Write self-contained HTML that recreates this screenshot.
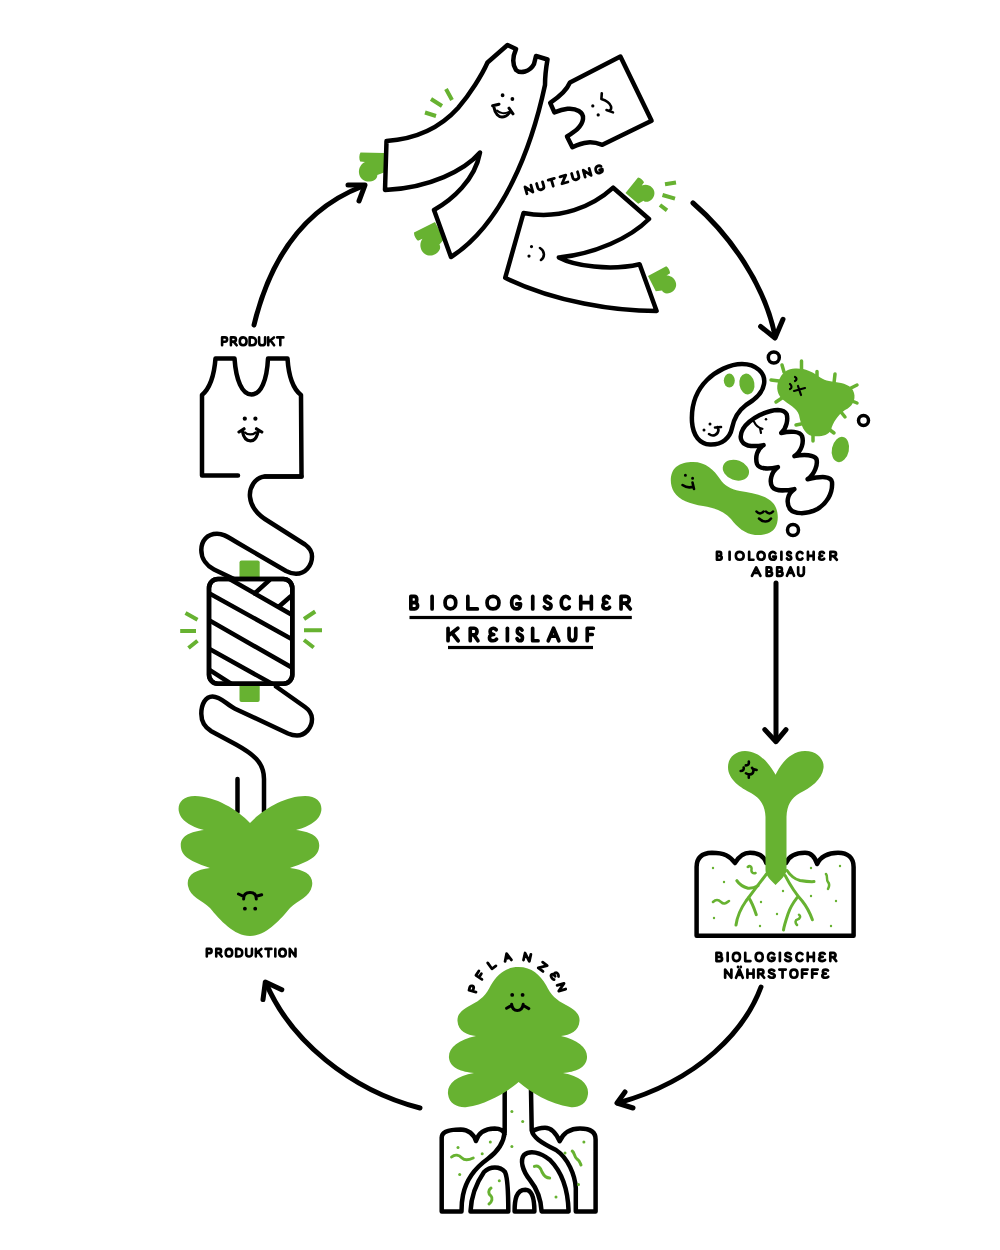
<!DOCTYPE html>
<html><head><meta charset="utf-8">
<style>
html,body{margin:0;padding:0;background:#fff;}
svg{display:block;}
</style></head>
<body>
<svg width="1000" height="1250" viewBox="0 0 1000 1250">
<defs>
<path id="mit" d="M0,0 L-23.5,-0.5 C-25,2 -25,6 -23.8,8.5 L-19,9 C-23,11 -25.5,15 -25,20 C-24.5,25.5 -19.5,29 -14,28.5 C-9,28 -6.5,25 -6.7,22 L0,19.5 Z"/>
</defs>
<g fill="none" stroke="#000" stroke-width="4.5" stroke-linecap="round" stroke-linejoin="round">

<!-- ===== NUTZUNG pieces ===== -->
<g id="mittens" fill="#67b231" stroke="none">
<use href="#mit" transform="translate(384,153)"/>
<use href="#mit" transform="translate(435,222) rotate(-28)"/>
<use href="#mit" transform="translate(625.5,193) rotate(-50) scale(-0.85,0.85)"/>
<use href="#mit" transform="translate(648,276) rotate(-27) scale(-0.88,0.88)"/>
</g>
<g stroke="#67b231" stroke-width="4" stroke-linecap="butt">
<path d="M425,112.5 L436,116 M431,99 L442,106 M446,89 L452,100"/>
<path d="M665,184.3 L676,182.5 M662.5,195 L675,198.7 M660,205 L667,210.4"/>
</g>
<path fill="#fff" d="M507.5,45 L516,49 C513,56 512,64 516,70 C520,74 530,72 534,64 L536,56 L547.5,59.5 C546,68 545,76 545,85 C531.8,146.9 503.3,223.3 451,257 L434,210 C452,200 475,180 480,152.5 C465,170 430,188 385,190 L386.5,141 C415,139 440,128 458,108 C470,94 482,75 487.5,62.5 Z"/>
<path fill="#fff" d="M570,82.4 L620.4,56.6 L651.6,120.8 L602.4,144.8 C596,142.5 592,142 588,142.4 C582,143 577,145 572.4,147.2 L567,136.4 C574,132 582,127 583,119 C584,112 576,108 567.6,108.8 C562,109.5 558,111 554.4,112.4 L550.2,102.8 C556,99 566,92 570,82.4 Z"/>
<path fill="#fff" d="M523.5,213 C560,220 592,207 613.2,187.7 L649,219 C630,238 595,254 558.8,257.4 C575,266 610,271 639.6,264.2 L656.6,311 C615,311 555,302 505.2,277.8 Z"/>

<!-- faces -->
<g stroke-width="2.2">
<path d="M502.6,95.2 l0,0.1 M512.4,99 l0,0.1" stroke-width="3.8"/><path d="M494,107.5 C495,114 499,117 502,117 C505,117 508,115 510.5,111.5 M492.6,105.8 L499,104.2 M509,108.2 L513,113.8" stroke-width="3"/><path d="M497,110.5 C500,113.5 505,114 508.5,112" stroke-width="2"/>
<path d="M592.8,105.8 l0,0.1 M598.2,114.8 l0,0.1" stroke-width="3.2"/><path d="M601.8,93.2 L601.4,99 C606,100.5 610,103.5 611,106.4 C611.5,108.5 611,110 609.5,110.6 M606.5,110 L613,112.4" stroke-width="2.6"/>
<path d="M531.5,246.5 l0,0.1 M529,256 l0,0.1" stroke-width="3.2"/><path d="M540,248 C545,251 545,257 541,260" stroke-width="2.6"/>
</g>

<!-- ===== Arrows ===== -->
<g stroke-width="5">
<path d="M254,325 C270,259 303,209 363,186"/>
<path d="M348,185 L365,185 L359,201"/>
<path d="M693,203 C730,235 765,285 775,336"/>
<path d="M760.6,326.5 L775,338 L783,319.3"/>
<path d="M776,583 L776,740"/>
<path d="M764.8,729.6 L776,741.7 L786,729.6"/>
<path d="M761,987 C745,1030 700,1080 618,1103"/>
<path d="M625,1092 L617,1103 L633,1108"/>
<path d="M420,1108 C350,1090 290,1040 266,983"/>
<path d="M281.8,989.7 L265.3,982 L263,999.6"/>
</g>

<!-- ===== PRODUKT tank ===== -->
<path fill="#fff" d="M238,475.5 L202,475.5 L202,395 C209,389 214,378 215.5,358.5 L234.5,358.5 C236,380 242,394.5 251.5,394.5 C261,394.5 267,380 268,358.5 L287.5,358.5 C288.5,374 292,388 301,395 L301.5,476.5 L265,476.5"/>
<path d="M244.8,418.6 l0,0.1 M255.4,418.6 l0,0.1" stroke-width="4.2"/>
<path d="M242.5,431.5 C243.5,437.5 246.5,440.8 250.5,440.8 C254.5,440.8 257,437.5 258,431.5 M239,432 L244,428.8 M256.5,428.8 L261.8,432" stroke-width="3.2"/><path d="M245,432.5 C247.5,435 253,435 255.5,432.5" stroke-width="2.4"/>

<!-- thread upper -->
<path d="M301.5,476.5 L265,476.5 C255,477 249,488 250,497 C251,507 258,515 268,521 L305,544.5 C310,548 312,552 312,556.5 C312,566 305,573.75 296,573.75 C292,573.75 289,572.5 286,571 L238,543 C229,538 225,533.7 217,533.7 C207,533.7 201.3,541 201.3,550 C201.3,559 207,566 214,569.5 L236,580"/>
<!-- spool tabs -->
<rect x="239.5" y="560.5" width="20.2" height="20" rx="2" fill="#67b231" stroke="none"/>
<rect x="239.5" y="682" width="20.2" height="20" rx="2" fill="#67b231" stroke="none"/>
<!-- spool -->
<rect x="209" y="579" width="83.3" height="104.8" rx="9" fill="#fff"/>
<clipPath id="spc"><rect x="209" y="579" width="83.3" height="104.8" rx="9"/></clipPath>
<g clip-path="url(#spc)">
<path d="M226,577 L294,616 M209.5,593.5 L293.5,640 M209.5,620.5 L293.5,668.5 M209.5,649 L277,686.5 M209.5,670 L233,685 M254.5,593.5 L269.5,580 M278.5,607 L290.5,596.5"/>
</g>
<rect x="209" y="579" width="83.3" height="104.8" rx="9"/>
<!-- thread lower -->
<path d="M276,686.5 L305,707 C310,710.5 312,714 312,719 C312,728 305,735.5 297,735.5 C294,735.5 291,734.8 288,733.5 L235,708.7 C227,705 221,696.5 212.5,696.5 C205.5,696.5 201.3,704 201.3,713.8 C201.3,721 205,727.5 211.3,731.3 L236,744.5 C253,754 264,762 264,779 L264,812"/>
<path d="M237.5,779 L237.5,812"/>
<g stroke="#67b231" stroke-width="4" stroke-linecap="butt">
<path d="M185.5,613 L197.5,619.7 M180.2,631 L196,631 M188.5,648 L197.5,640.7"/>
<path d="M304,619 L315.2,611.5 M304,630.2 L322,630.2 M304,640 L313.7,647.5"/>
</g>

<!-- ===== PRODUKTION plant ===== -->
<path fill="#67b231" stroke="none" d="M250,823 C262,810 285,796 305,796 C318,796 323,804 321,812 C319,822 305,828 296,830 C310,832 321,836 319,848 C317,860 300,864 290,868 C305,870 314,875 312,886 C310,897 298,900 290,908 C280,920 266,936 250,936 C234,936 220,920 210,908 C202,900 190,897 188,886 C186,875 195,870 210,868 C200,864 183,860 181,848 C179,836 190,832 204,830 C195,828 181,822 179,812 C177,804 182,796 195,796 C215,796 238,810 250,823 Z"/>
<path d="M243.6,899 C243.6,894.5 246.5,892.6 250,892.6 C253.5,892.6 256.3,894.5 256.3,899 M238.5,894 L243.5,896.3 M256.3,896.3 L261.7,894.8" stroke-width="3"/>
<path d="M244.9,908.6 l0,0.1 M255.2,908.6 l0,0.1" stroke-width="3.8"/>

</g>

<!-- ===== ABBAU decomposers ===== -->
<g fill="none" stroke="#000" stroke-width="4.5" stroke-linecap="round" stroke-linejoin="round">
<circle cx="773.8" cy="357.5" r="5.5" stroke-width="3.5"/>
<circle cx="863.5" cy="420.6" r="5" stroke-width="3.5"/>
<circle cx="793" cy="530" r="5.5" stroke-width="3.5"/>
<path fill="#fff" d="M742,364 C756,364 766,373 764,384 C763,392 756,399 746,405 C738,411 734,418 732,428 C730,438 722,445 710,444.5 C700,444 693,436 692,422 C691,405 697,390 707,380 C716,371 730,364 742,364 Z"/>
<ellipse cx="729.3" cy="380.6" rx="5.5" ry="7" fill="#67b231" stroke="none"/>
<ellipse cx="746.9" cy="384" rx="7.5" ry="10.5" fill="#67b231" stroke="none" transform="rotate(-10 746.9 384)"/>
<path d="M710,424 l0,0.1 M704,430 l0,0.1" stroke-width="3"/>
<path d="M709,434 C713,437 718,435 718.5,430 L717.5,427 M715,427.5 L721,427" stroke-width="2.6"/>
<!-- virus -->
<g stroke="#67b231" stroke-width="3.5">
<path d="M784,372 L782,365 M801.5,371 L801.5,361 M817,376 L817,371.5 M834,383 L835,374 M851,388 L857,385 M852,401 L857,403 M841,412 L845,417 M830,430 L834,433 M813,435 L813,441 M801,424 L796,425 M782,398 L776,402 M779,381 L771,380"/>
</g>
<path fill="#67b231" stroke="none" d="M780,378 C783,372 788,368.5 795,368.5 C805,368 812,372 817,375 C822,379 826,381 835,382 C843,383 852,385 854,393 C856,400 852,407 845,410 C838,415 833,422 831,430 C828,436 820,437 812,436 C804,434 801,425 799,415 C797,408 788,404 782,399 C776,393 776,384 780,378 Z"/>
<g stroke="#000" stroke-width="2.2">
<path d="M795,377 C797,378 797,380 795,381 M790,384 C792,386 792,388 790,389 M794,391 L805,388 M798,386 L801,395"/>
</g>
<ellipse cx="840.4" cy="449.5" rx="8.5" ry="12.8" fill="#67b231" stroke="none" transform="rotate(12 840.4 449.5)"/>
<ellipse cx="735.9" cy="470.2" rx="13.5" ry="10" fill="#67b231" stroke="none" transform="rotate(20 735.9 470.2)"/>
<!-- peanut -->
<path fill="#67b231" stroke="none" d="M693,462 C706,462 714,470 720,479 C724,485 730,489 740,491 C752,493 766,495 773,503 C779,510 779,522 775,528 C771,534 763,535.5 755,535 C745,534 737,527 731,519 C725,512 716,508 703,506 C690,504 679,500 674,492 C669,484 670,472 676,467 C681,463 687,462 693,462 Z"/>
<path d="M685.4,475.2 l0,0.1 M692.6,478.2 l0,0.1" stroke-width="3"/><path d="M682.5,485 C686,487.5 690,488 693.5,486.5 M692.5,482.5 L694,489" stroke-width="2.6"/>
<path d="M756.5,511.5 C758.5,514 761.5,514 763.5,511.5 M766,511.5 C768,514 771,514 773,511.5 M759,518.5 C763,522.5 768,522.5 771,518.5" stroke-width="2.5"/>
<!-- worm -->
<path fill="#fff" d="M777.9,409.9 C768,410 750,418 743,429 C739,436 740,443 748,445.5 C753,446.5 759,446 763.6,445.1 C757,449 755,457 757,464 C759,469 768,469.5 777.9,467.1 C771,472 769,482 772.4,487 C775,491 785,491 794.4,489.1 C787,494 786,503 790,509 C794,514 806,515 817.5,509 C826,504 833,494 832,482 C831,476 822,476 807.6,479.2 C815,474 818,464 816.4,459 C814,455 805,454 794.4,456.1 C802,451 804,442 802,436 C800,431 790,431 781.2,433 C787,428 788,419 786.7,414.3 C785,411 782,410 777.9,409.9 Z"/>
<path d="M766,419.2 l0,0.1" stroke-width="2.5"/>
<path d="M754,421.6 C756,426 759,428 762.4,428.8 M760,428 L761,433" stroke-width="2.2"/>
</g>

<!-- ===== NÄHRSTOFFE sprout ===== -->
<g fill="none" stroke="#000" stroke-width="4.5" stroke-linecap="round" stroke-linejoin="round">
<path fill="#fff" d="M696.6,935.8 L696.6,867 C696.6,858 701,853 712,852.7 C724,852.7 730,856 735,863 C739,856 744,852.7 750,852.7 C758,852.7 764,856 766.3,863 L786,863 C789,856 795,852.7 805,852.7 C811,852.7 815,857 817.2,864 C820,857 828,852.7 838,852.7 C848,852.7 853.6,858 853.6,867 L853.6,935.8 Z"/>
<path fill="#67b231" stroke="none" d="M775.6,774.7 C780,765 790,751 805,751 C818,751 824.5,760 823.5,768 C822,780 810,788 800,793 C791,798 787,805 786.5,817 L786.5,870 C786,876 780,880 775.6,885 C771,880 765.5,876 765.5,870 L765.5,817 C765,805 760,798 751,793 C741,788 728,780 728,767 C728,758 735,751 745,751 C760,751 770,765 775.6,774.7 Z"/>
<path d="M748.8,761.6 C749.2,764 748.2,765.5 745.8,765.4 M743.7,767.6 C744,770 743,771 740.7,771 M752,767.8 C754.5,770 753.5,774 750,774.4 C748.5,774.6 747,774 746,773.3 M753,769 L756.6,770 M748.8,774.3 L748.8,777.8" stroke-width="2.6"/>
<g stroke="#67b231" stroke-width="3">
<path d="M766.5,874 C762,880 752,893 746,901 C741,908 737,918 736,925"/>
<path d="M748.7,897.7 C751,901 754,908 756.3,914.7"/>
<path d="M736.8,880.7 C739,884 743,887 748,888.2 C752,888.5 755,887.5 758,885.8"/>
<path d="M785.2,875.6 C788,881 795,893 802.2,901 C807,907 810,913 812.4,919.8"/>
<path d="M797.1,897.7 C793,903 790,908 788,914 C786,920 784,926 783.5,930"/>
<path d="M787,870.5 C790,875 794,879 800,880.5 C806,881.5 810,881.8 814,881.6"/>
<path d="M747.8,867 C750,865 752,867 751.5,869.5 C751,872 753,874 755.5,873 M826,874 C828,876 826,880 828,882 C830,884 829,887 828,889 M713,902 C716,899 719,900 721,902 C724,905 726,903 729,901 M799,914.7 C801,916 800,919 797.5,919.5 C795,920 795,923 797,925" stroke-width="2.5"/>
</g>
<g fill="#67b231" stroke="none">
<circle cx="713" cy="868" r="1.2"/><circle cx="724" cy="882" r="1.2"/><circle cx="714" cy="918" r="1.2"/>
<circle cx="761" cy="902" r="1.2"/><circle cx="760" cy="926" r="1.2"/><circle cx="777" cy="914" r="1.2"/>
<circle cx="783" cy="891" r="1.2"/><circle cx="811" cy="868" r="1.2"/><circle cx="840" cy="866" r="1.2"/>
<circle cx="811" cy="896" r="1.2"/><circle cx="836" cy="901" r="1.2"/><circle cx="831" cy="926" r="1.2"/>
</g>
</g>

<!-- ===== PFLANZEN tree ===== -->
<g fill="none" stroke="#000" stroke-width="4.5" stroke-linecap="round" stroke-linejoin="round">
<path fill="#fff" stroke="none" d="M504.7,1085 L531,1085 L531,1130 L600,1130 L600,1212 L440,1212 L440,1130 L504.7,1130 Z"/>
<path d="M504.7,1090 L504.7,1132 C504,1140 500,1150 487.6,1159 C475,1168 466,1180 463,1195 C461.5,1202 461.5,1208 461.5,1211.4 L441.7,1211.4 L441.7,1137.6 C441.7,1132 448,1129.5 460.6,1129.5 C470,1130 474,1135 476,1141 C478,1134 484,1129 494.8,1128.6 C500,1128.6 503,1130 504.7,1134"/>
<path d="M470.5,1211.4 C471,1200 475,1185 484,1172 C490,1166 500,1166 505,1172 C508,1178 508.3,1195 508.3,1211.4 Z"/>
<path d="M514.6,1211.4 C514.6,1200 516,1190 525.4,1189.8 C533,1190 534.4,1200 534.4,1211.4 Z"/>
<path d="M541.6,1211.4 C541,1200 538,1190 530,1180 C522,1170 520,1160 524,1155 C530,1150 540,1152 550,1160 C562,1172 568,1190 568.6,1211.4 Z"/>
<path d="M531,1090 L531.7,1130.4 C533,1137 540,1142 556,1150 C568,1158 575,1175 575.8,1188 L575.8,1211.4 L595.6,1211.4 L595.6,1139.4 C595.6,1132 590,1128.6 580,1128.6 C570,1128.6 563,1134 559.6,1141.2 C556,1133 552,1127.7 545,1127.7 C540,1127.7 536,1129 533,1131"/>
<path fill="#67b231" stroke="none" d="M518.4,967 C532,967 540,975 546,985 C551,995 556,1000 566,1005 C575,1010 580,1014 579.5,1021 C579,1031 570,1035 561,1036 C578,1040 588,1048 587,1058 C586,1068 575,1072 563,1073 C580,1076 589,1084 588,1094 C587,1105 577,1108 570,1107 C550,1104 530,1092 518.6,1082 C507,1092 487,1104 467,1107 C460,1108 449,1105 448,1094 C447,1084 456,1076 474,1073 C462,1072 450,1068 449,1058 C448,1048 458,1040 476,1036 C467,1035 458,1031 457.5,1021 C457,1014 462,1010 471,1005 C481,1000 486,995 491,985 C497,975 505,967 518.4,967 Z"/>
<path d="M512.2,994.8 l0,0.1 M522.6,994.8 l0,0.1" stroke-width="3.8"/>
<path d="M511.6,1004.3 C512.3,1009 514.5,1010.6 517.3,1010.6 C520,1010.6 522.5,1009 523.2,1004.3 M506.6,1008.2 L511.8,1005.3 M523,1005.3 L528.8,1008.6" stroke-width="3"/>
<g stroke="#67b231" stroke-width="3">
<path d="M451.6,1157 C455,1154 459,1155 462,1158 C465,1161 469,1160 473.2,1158"/>
<path d="M491,1188 C488,1190 488,1194 491,1196 C493,1198 492,1202 489,1204"/>
<path d="M534.4,1166.4 C538,1165 541,1168 542,1172 C544,1176 547,1178 549.7,1178"/>
<path d="M572.2,1151 C575,1153 574,1157 577,1159 C580,1161 580,1163 581,1165"/>
</g>
<g fill="#67b231" stroke="none">
<circle cx="458" cy="1147.5" r="1.5"/><circle cx="490.3" cy="1142" r="1.5"/><circle cx="482.2" cy="1153.8" r="1.5"/>
<circle cx="459.7" cy="1174.5" r="1.5"/><circle cx="499.3" cy="1180.8" r="1.5"/><circle cx="511.9" cy="1111.5" r="1.5"/>
<circle cx="522.7" cy="1121.4" r="1.5"/><circle cx="511.9" cy="1146.6" r="1.5"/><circle cx="583.9" cy="1142" r="1.5"/>
<circle cx="565" cy="1152.9" r="1.5"/><circle cx="578.5" cy="1184.4" r="1.5"/><circle cx="556" cy="1197" r="1.5"/>
</g>
</g>

<g fill="none" stroke="#000" stroke-linecap="round" stroke-linejoin="round">
<g><path transform="translate(410.85,596.45) scale(1.1270,1.2500)" stroke-width="3.70" vector-effect="non-scaling-stroke" d="M0,10 V0 H3 C6,0 6,5 3,5 H0 M3,5 H3.5 C6.8,5 6.8,10 3.5,10 H0"/><path transform="translate(432.10,596.45) scale(1.2500,1.2500)" stroke-width="3.70" vector-effect="non-scaling-stroke" d="M0,0 V10"/><path transform="translate(445.05,596.45) scale(1.4267,1.2500)" stroke-width="3.70" vector-effect="non-scaling-stroke" d="M3.75,0 C1,0 0,2.5 0,5 C0,7.5 1,10 3.75,10 C6.5,10 7.5,7.5 7.5,5 C7.5,2.5 6.5,0 3.75,0 Z"/><path transform="translate(467.85,596.45) scale(1.7273,1.2500)" stroke-width="3.70" vector-effect="non-scaling-stroke" d="M0,0 V10 H5.5"/><path transform="translate(487.05,596.45) scale(1.5867,1.2500)" stroke-width="3.70" vector-effect="non-scaling-stroke" d="M3.75,0 C1,0 0,2.5 0,5 C0,7.5 1,10 3.75,10 C6.5,10 7.5,7.5 7.5,5 C7.5,2.5 6.5,0 3.75,0 Z"/><path transform="translate(511.65,596.45) scale(1.2714,1.2500)" stroke-width="3.70" vector-effect="non-scaling-stroke" d="M6.5,1.8 C5.8,0.6 4.8,0 3.6,0 C1.2,0 0,2.4 0,5 C0,7.8 1.3,10 3.6,10 C5.8,10 7,8.4 7,6 H4"/><path transform="translate(532.75,596.45) scale(1.2500,1.2500)" stroke-width="3.70" vector-effect="non-scaling-stroke" d="M0,0 V10"/><path transform="translate(544.35,596.45) scale(1.0635,1.2500)" stroke-width="3.70" vector-effect="non-scaling-stroke" d="M5.8,1.5 C5,0.5 4,0 3,0 C1.3,0 0.3,1 0.3,2.5 C0.3,5.5 6.3,4.5 6.3,7.5 C6.3,9 5,10 3.2,10 C1.8,10 0.7,9.3 0,8.3"/><path transform="translate(561.25,596.45) scale(1.2308,1.2500)" stroke-width="3.70" vector-effect="non-scaling-stroke" d="M6.5,1.6 C5.8,0.6 4.8,0 3.7,0 C1.3,0 0,2.4 0,5 C0,7.8 1.4,10 3.7,10 C4.9,10 5.9,9.4 6.5,8.4"/><path transform="translate(580.75,596.45) scale(1.6308,1.2500)" stroke-width="3.70" vector-effect="non-scaling-stroke" d="M0,0 V10 M6.5,0 V10 M0,5 H6.5"/><path transform="translate(602.85,596.45) scale(1.0635,1.2500)" stroke-width="3.70" vector-effect="non-scaling-stroke" d="M6,1.2 C5.3,0.4 4.4,0 3.4,0 C1.6,0 0.6,1.2 0.6,2.6 C0.6,4.2 2,5 3.8,5 C1.6,5 0,6 0,7.5 C0,9.1 1.4,10 3.4,10 C4.6,10 5.6,9.5 6.3,8.7"/><path transform="translate(621.05,596.45) scale(1.4762,1.2500)" stroke-width="3.70" vector-effect="non-scaling-stroke" d="M0,10 V0 H3.2 C6.3,0 6.3,5.3 3.2,5.3 H0 M3,5.3 L6.3,10"/></g>
<g><path transform="translate(448.05,628.25) scale(1.5538,1.2500)" stroke-width="3.70" vector-effect="non-scaling-stroke" d="M0,0 V10 M6.3,0 L0.3,5.8 M2.6,3.8 L6.5,10"/><path transform="translate(470.25,628.25) scale(1.2222,1.2500)" stroke-width="3.70" vector-effect="non-scaling-stroke" d="M0,10 V0 H3.2 C6.3,0 6.3,5.3 3.2,5.3 H0 M3,5.3 L6.3,10"/><path transform="translate(489.45,628.25) scale(1.1270,1.2500)" stroke-width="3.70" vector-effect="non-scaling-stroke" d="M6,1.2 C5.3,0.4 4.4,0 3.4,0 C1.6,0 0.6,1.2 0.6,2.6 C0.6,4.2 2,5 3.8,5 C1.6,5 0,6 0,7.5 C0,9.1 1.4,10 3.4,10 C4.6,10 5.6,9.5 6.3,8.7"/><path transform="translate(507.40,628.25) scale(1.2500,1.2500)" stroke-width="3.70" vector-effect="non-scaling-stroke" d="M0,0 V10"/><path transform="translate(517.05,628.25) scale(0.8571,1.2500)" stroke-width="3.70" vector-effect="non-scaling-stroke" d="M5.8,1.5 C5,0.5 4,0 3,0 C1.3,0 0.3,1 0.3,2.5 C0.3,5.5 6.3,4.5 6.3,7.5 C6.3,9 5,10 3.2,10 C1.8,10 0.7,9.3 0,8.3"/><path transform="translate(532.65,628.25) scale(0.9818,1.2500)" stroke-width="3.70" vector-effect="non-scaling-stroke" d="M0,0 V10 H5.5"/><path transform="translate(548.25,628.25) scale(1.4722,1.2500)" stroke-width="3.70" vector-effect="non-scaling-stroke" d="M0,10 L3.6,0 L7.2,10 M1.3,6.4 H5.9"/><path transform="translate(569.05,628.25) scale(1.0152,1.2500)" stroke-width="3.70" vector-effect="non-scaling-stroke" d="M0,0 V6.3 C0,8.8 1.4,10 3.3,10 C5.2,10 6.6,8.8 6.6,6.3 V0"/><path transform="translate(587.25,628.25) scale(1.0517,1.2500)" stroke-width="3.70" vector-effect="non-scaling-stroke" d="M5.8,0 H0 V10 M0,5 H4.8"/></g>
<g transform="translate(220.80,346.60) rotate(0.00)"><path transform="translate(1.30,-9.20) scale(0.9085,0.7900)" stroke-width="2.60" vector-effect="non-scaling-stroke" d="M0,10 V0 H3.2 C6.3,0 6.3,5.5 3.2,5.5 H0"/><path transform="translate(10.12,-9.20) scale(0.9085,0.7900)" stroke-width="2.60" vector-effect="non-scaling-stroke" d="M0,10 V0 H3.2 C6.3,0 6.3,5.3 3.2,5.3 H0 M3,5.3 L6.3,10"/><path transform="translate(18.95,-9.20) scale(0.9085,0.7900)" stroke-width="2.60" vector-effect="non-scaling-stroke" d="M3.75,0 C1,0 0,2.5 0,5 C0,7.5 1,10 3.75,10 C6.5,10 7.5,7.5 7.5,5 C7.5,2.5 6.5,0 3.75,0 Z"/><path transform="translate(28.86,-9.20) scale(0.9085,0.7900)" stroke-width="2.60" vector-effect="non-scaling-stroke" d="M0,0 V10 H2.6 C5.6,10 7,7.8 7,5 C7,2.2 5.6,0 2.6,0 Z"/><path transform="translate(38.32,-9.20) scale(0.9085,0.7900)" stroke-width="2.60" vector-effect="non-scaling-stroke" d="M0,0 V6.3 C0,8.8 1.4,10 3.3,10 C5.2,10 6.6,8.8 6.6,6.3 V0"/><path transform="translate(47.42,-9.20) scale(0.9085,0.7900)" stroke-width="2.60" vector-effect="non-scaling-stroke" d="M0,0 V10 M6.3,0 L0.3,5.8 M2.6,3.8 L6.5,10"/><path transform="translate(56.42,-9.20) scale(0.9085,0.7900)" stroke-width="2.60" vector-effect="non-scaling-stroke" d="M0,0 H6.8 M3.4,0 V10"/></g>
<g transform="translate(205.50,957.80) rotate(0.00)"><path transform="translate(1.30,-8.90) scale(0.8740,0.7600)" stroke-width="2.60" vector-effect="non-scaling-stroke" d="M0,10 V0 H3.2 C6.3,0 6.3,5.5 3.2,5.5 H0"/><path transform="translate(10.73,-8.90) scale(0.8740,0.7600)" stroke-width="2.60" vector-effect="non-scaling-stroke" d="M0,10 V0 H3.2 C6.3,0 6.3,5.3 3.2,5.3 H0 M3,5.3 L6.3,10"/><path transform="translate(20.16,-8.90) scale(0.8740,0.7600)" stroke-width="2.60" vector-effect="non-scaling-stroke" d="M3.75,0 C1,0 0,2.5 0,5 C0,7.5 1,10 3.75,10 C6.5,10 7.5,7.5 7.5,5 C7.5,2.5 6.5,0 3.75,0 Z"/><path transform="translate(30.63,-8.90) scale(0.8740,0.7600)" stroke-width="2.60" vector-effect="non-scaling-stroke" d="M0,0 V10 H2.6 C5.6,10 7,7.8 7,5 C7,2.2 5.6,0 2.6,0 Z"/><path transform="translate(40.67,-8.90) scale(0.8740,0.7600)" stroke-width="2.60" vector-effect="non-scaling-stroke" d="M0,0 V6.3 C0,8.8 1.4,10 3.3,10 C5.2,10 6.6,8.8 6.6,6.3 V0"/><path transform="translate(50.36,-8.90) scale(0.8740,0.7600)" stroke-width="2.60" vector-effect="non-scaling-stroke" d="M0,0 V10 M6.3,0 L0.3,5.8 M2.6,3.8 L6.5,10"/><path transform="translate(59.97,-8.90) scale(0.8740,0.7600)" stroke-width="2.60" vector-effect="non-scaling-stroke" d="M0,0 H6.8 M3.4,0 V10"/><path transform="translate(69.83,-8.90) scale(0.8740,0.7600)" stroke-width="2.60" vector-effect="non-scaling-stroke" d="M0,0 V10"/><path transform="translate(73.75,-8.90) scale(0.8740,0.7600)" stroke-width="2.60" vector-effect="non-scaling-stroke" d="M3.75,0 C1,0 0,2.5 0,5 C0,7.5 1,10 3.75,10 C6.5,10 7.5,7.5 7.5,5 C7.5,2.5 6.5,0 3.75,0 Z"/><path transform="translate(84.23,-8.90) scale(0.8740,0.7600)" stroke-width="2.60" vector-effect="non-scaling-stroke" d="M0,10 V0 L6.6,10 V0"/></g>
<g><path transform="translate(716.95,551.95) scale(0.7937,0.7800)" stroke-width="2.70" vector-effect="non-scaling-stroke" d="M0,10 V0 H3 C6,0 6,5 3,5 H0 M3,5 H3.5 C6.8,5 6.8,10 3.5,10 H0"/><path transform="translate(729.60,551.95) scale(0.7800,0.7800)" stroke-width="2.70" vector-effect="non-scaling-stroke" d="M0,0 V10"/><path transform="translate(735.85,551.95) scale(1.0400,0.7800)" stroke-width="2.70" vector-effect="non-scaling-stroke" d="M3.75,0 C1,0 0,2.5 0,5 C0,7.5 1,10 3.75,10 C6.5,10 7.5,7.5 7.5,5 C7.5,2.5 6.5,0 3.75,0 Z"/><path transform="translate(749.15,551.95) scale(0.7818,0.7800)" stroke-width="2.70" vector-effect="non-scaling-stroke" d="M0,0 V10 H5.5"/><path transform="translate(757.55,551.95) scale(0.9467,0.7800)" stroke-width="2.70" vector-effect="non-scaling-stroke" d="M3.75,0 C1,0 0,2.5 0,5 C0,7.5 1,10 3.75,10 C6.5,10 7.5,7.5 7.5,5 C7.5,2.5 6.5,0 3.75,0 Z"/><path transform="translate(769.45,551.95) scale(0.9143,0.7800)" stroke-width="2.70" vector-effect="non-scaling-stroke" d="M6.5,1.8 C5.8,0.6 4.8,0 3.6,0 C1.2,0 0,2.4 0,5 C0,7.8 1.3,10 3.6,10 C5.8,10 7,8.4 7,6 H4"/><path transform="translate(781.40,551.95) scale(0.7800,0.7800)" stroke-width="2.70" vector-effect="non-scaling-stroke" d="M0,0 V10"/><path transform="translate(786.95,551.95) scale(0.6825,0.7800)" stroke-width="2.70" vector-effect="non-scaling-stroke" d="M5.8,1.5 C5,0.5 4,0 3,0 C1.3,0 0.3,1 0.3,2.5 C0.3,5.5 6.3,4.5 6.3,7.5 C6.3,9 5,10 3.2,10 C1.8,10 0.7,9.3 0,8.3"/><path transform="translate(796.75,551.95) scale(0.8769,0.7800)" stroke-width="2.70" vector-effect="non-scaling-stroke" d="M6.5,1.6 C5.8,0.6 4.8,0 3.7,0 C1.3,0 0,2.4 0,5 C0,7.8 1.4,10 3.7,10 C4.9,10 5.9,9.4 6.5,8.4"/><path transform="translate(807.95,551.95) scale(0.8769,0.7800)" stroke-width="2.70" vector-effect="non-scaling-stroke" d="M0,0 V10 M6.5,0 V10 M0,5 H6.5"/><path transform="translate(819.15,551.95) scale(0.7937,0.7800)" stroke-width="2.70" vector-effect="non-scaling-stroke" d="M6,1.2 C5.3,0.4 4.4,0 3.4,0 C1.6,0 0.6,1.2 0.6,2.6 C0.6,4.2 2,5 3.8,5 C1.6,5 0,6 0,7.5 C0,9.1 1.4,10 3.4,10 C4.6,10 5.6,9.5 6.3,8.7"/><path transform="translate(830.35,551.95) scale(1.0317,0.7800)" stroke-width="2.70" vector-effect="non-scaling-stroke" d="M0,10 V0 H3.2 C6.3,0 6.3,5.3 3.2,5.3 H0 M3,5.3 L6.3,10"/></g>
<g><path transform="translate(751.95,567.35) scale(1.1806,0.8500)" stroke-width="2.70" vector-effect="non-scaling-stroke" d="M0,10 L3.6,0 L7.2,10 M1.3,6.4 H5.9"/><path transform="translate(766.65,567.35) scale(0.9048,0.8500)" stroke-width="2.70" vector-effect="non-scaling-stroke" d="M0,10 V0 H3 C6,0 6,5 3,5 H0 M3,5 H3.5 C6.8,5 6.8,10 3.5,10 H0"/><path transform="translate(777.15,567.35) scale(0.9048,0.8500)" stroke-width="2.70" vector-effect="non-scaling-stroke" d="M0,10 V0 H3 C6,0 6,5 3,5 H0 M3,5 H3.5 C6.8,5 6.8,10 3.5,10 H0"/><path transform="translate(786.95,567.35) scale(0.9861,0.8500)" stroke-width="2.70" vector-effect="non-scaling-stroke" d="M0,10 L3.6,0 L7.2,10 M1.3,6.4 H5.9"/><path transform="translate(798.15,567.35) scale(0.8636,0.8500)" stroke-width="2.70" vector-effect="non-scaling-stroke" d="M0,0 V6.3 C0,8.8 1.4,10 3.3,10 C5.2,10 6.6,8.8 6.6,6.3 V0"/></g>
<g transform="translate(715.10,962.40) rotate(0.00)"><path transform="translate(1.35,-9.55) scale(0.9430,0.8200)" stroke-width="2.70" vector-effect="non-scaling-stroke" d="M0,10 V0 H3 C6,0 6,5 3,5 H0 M3,5 H3.5 C6.8,5 6.8,10 3.5,10 H0"/><path transform="translate(12.55,-9.55) scale(0.9430,0.8200)" stroke-width="2.70" vector-effect="non-scaling-stroke" d="M0,0 V10"/><path transform="translate(17.81,-9.55) scale(0.9430,0.8200)" stroke-width="2.70" vector-effect="non-scaling-stroke" d="M3.75,0 C1,0 0,2.5 0,5 C0,7.5 1,10 3.75,10 C6.5,10 7.5,7.5 7.5,5 C7.5,2.5 6.5,0 3.75,0 Z"/><path transform="translate(30.14,-9.55) scale(0.9430,0.8200)" stroke-width="2.70" vector-effect="non-scaling-stroke" d="M0,0 V10 H5.5"/><path transform="translate(40.58,-9.55) scale(0.9430,0.8200)" stroke-width="2.70" vector-effect="non-scaling-stroke" d="M3.75,0 C1,0 0,2.5 0,5 C0,7.5 1,10 3.75,10 C6.5,10 7.5,7.5 7.5,5 C7.5,2.5 6.5,0 3.75,0 Z"/><path transform="translate(52.92,-9.55) scale(0.9430,0.8200)" stroke-width="2.70" vector-effect="non-scaling-stroke" d="M6.5,1.8 C5.8,0.6 4.8,0 3.6,0 C1.2,0 0,2.4 0,5 C0,7.8 1.3,10 3.6,10 C5.8,10 7,8.4 7,6 H4"/><path transform="translate(64.78,-9.55) scale(0.9430,0.8200)" stroke-width="2.70" vector-effect="non-scaling-stroke" d="M0,0 V10"/><path transform="translate(70.03,-9.55) scale(0.9430,0.8200)" stroke-width="2.70" vector-effect="non-scaling-stroke" d="M5.8,1.5 C5,0.5 4,0 3,0 C1.3,0 0.3,1 0.3,2.5 C0.3,5.5 6.3,4.5 6.3,7.5 C6.3,9 5,10 3.2,10 C1.8,10 0.7,9.3 0,8.3"/><path transform="translate(81.23,-9.55) scale(0.9430,0.8200)" stroke-width="2.70" vector-effect="non-scaling-stroke" d="M6.5,1.6 C5.8,0.6 4.8,0 3.7,0 C1.3,0 0,2.4 0,5 C0,7.8 1.4,10 3.7,10 C4.9,10 5.9,9.4 6.5,8.4"/><path transform="translate(92.62,-9.55) scale(0.9430,0.8200)" stroke-width="2.70" vector-effect="non-scaling-stroke" d="M0,0 V10 M6.5,0 V10 M0,5 H6.5"/><path transform="translate(104.01,-9.55) scale(0.9430,0.8200)" stroke-width="2.70" vector-effect="non-scaling-stroke" d="M6,1.2 C5.3,0.4 4.4,0 3.4,0 C1.6,0 0.6,1.2 0.6,2.6 C0.6,4.2 2,5 3.8,5 C1.6,5 0,6 0,7.5 C0,9.1 1.4,10 3.4,10 C4.6,10 5.6,9.5 6.3,8.7"/><path transform="translate(115.21,-9.55) scale(0.9430,0.8200)" stroke-width="2.70" vector-effect="non-scaling-stroke" d="M0,10 V0 H3.2 C6.3,0 6.3,5.3 3.2,5.3 H0 M3,5.3 L6.3,10"/></g>
<g transform="translate(723.80,979.10) rotate(0.00)"><path transform="translate(1.35,-9.55) scale(0.9430,0.8200)" stroke-width="2.70" vector-effect="non-scaling-stroke" d="M0,10 V0 L6.6,10 V0"/><path transform="translate(12.21,-9.55) scale(0.9430,0.8200)" stroke-width="2.70" vector-effect="non-scaling-stroke" d="M0,10 L3.6,0 L7.2,10 M1.3,6.4 H5.9 M2.1,-3.2 V-3 M5.1,-3.2 V-3"/><path transform="translate(23.63,-9.55) scale(0.9430,0.8200)" stroke-width="2.70" vector-effect="non-scaling-stroke" d="M0,0 V10 M6.5,0 V10 M0,5 H6.5"/><path transform="translate(34.40,-9.55) scale(0.9430,0.8200)" stroke-width="2.70" vector-effect="non-scaling-stroke" d="M0,10 V0 H3.2 C6.3,0 6.3,5.3 3.2,5.3 H0 M3,5.3 L6.3,10"/><path transform="translate(44.97,-9.55) scale(0.9430,0.8200)" stroke-width="2.70" vector-effect="non-scaling-stroke" d="M5.8,1.5 C5,0.5 4,0 3,0 C1.3,0 0.3,1 0.3,2.5 C0.3,5.5 6.3,4.5 6.3,7.5 C6.3,9 5,10 3.2,10 C1.8,10 0.7,9.3 0,8.3"/><path transform="translate(55.55,-9.55) scale(0.9430,0.8200)" stroke-width="2.70" vector-effect="non-scaling-stroke" d="M0,0 H6.8 M3.4,0 V10"/><path transform="translate(66.59,-9.55) scale(0.9430,0.8200)" stroke-width="2.70" vector-effect="non-scaling-stroke" d="M3.75,0 C1,0 0,2.5 0,5 C0,7.5 1,10 3.75,10 C6.5,10 7.5,7.5 7.5,5 C7.5,2.5 6.5,0 3.75,0 Z"/><path transform="translate(78.30,-9.55) scale(0.9430,0.8200)" stroke-width="2.70" vector-effect="non-scaling-stroke" d="M5.8,0 H0 V10 M0,5 H4.8"/><path transform="translate(88.41,-9.55) scale(0.9430,0.8200)" stroke-width="2.70" vector-effect="non-scaling-stroke" d="M5.8,0 H0 V10 M0,5 H4.8"/><path transform="translate(98.51,-9.55) scale(0.9430,0.8200)" stroke-width="2.70" vector-effect="non-scaling-stroke" d="M6,1.2 C5.3,0.4 4.4,0 3.4,0 C1.6,0 0.6,1.2 0.6,2.6 C0.6,4.2 2,5 3.8,5 C1.6,5 0,6 0,7.5 C0,9.1 1.4,10 3.4,10 C4.6,10 5.6,9.5 6.3,8.7"/></g>
<g transform="translate(526.00,195.50) rotate(-16.00)"><path transform="translate(1.40,-8.60) scale(0.9360,0.7200)" stroke-width="2.80" vector-effect="non-scaling-stroke" d="M0,10 V0 L6.6,10 V0"/><path transform="translate(13.48,-8.60) scale(0.9360,0.7200)" stroke-width="2.80" vector-effect="non-scaling-stroke" d="M0,0 V6.3 C0,8.8 1.4,10 3.3,10 C5.2,10 6.6,8.8 6.6,6.3 V0"/><path transform="translate(25.55,-8.60) scale(0.9360,0.7200)" stroke-width="2.80" vector-effect="non-scaling-stroke" d="M0,0 H6.8 M3.4,0 V10"/><path transform="translate(37.82,-8.60) scale(0.9360,0.7200)" stroke-width="2.80" vector-effect="non-scaling-stroke" d="M0,0 H6.4 L0,10 H6.6"/><path transform="translate(49.89,-8.60) scale(0.9360,0.7200)" stroke-width="2.80" vector-effect="non-scaling-stroke" d="M0,0 V6.3 C0,8.8 1.4,10 3.3,10 C5.2,10 6.6,8.8 6.6,6.3 V0"/><path transform="translate(61.97,-8.60) scale(0.9360,0.7200)" stroke-width="2.80" vector-effect="non-scaling-stroke" d="M0,10 V0 L6.6,10 V0"/><path transform="translate(74.05,-8.60) scale(0.9360,0.7200)" stroke-width="2.80" vector-effect="non-scaling-stroke" d="M6.5,1.8 C5.8,0.6 4.8,0 3.6,0 C1.2,0 0,2.4 0,5 C0,7.8 1.3,10 3.6,10 C5.8,10 7,8.4 7,6 H4"/></g>
<g transform="translate(473.20,988.40) rotate(-75.33)"><path transform="scale(0.9000,0.7200) translate(-3.15,-5)" stroke-width="2.80" vector-effect="non-scaling-stroke" d="M0,10 V0 H3.2 C6.3,0 6.3,5.5 3.2,5.5 H0"/></g>
<g transform="translate(480.40,975.20) rotate(-56.24)"><path transform="scale(0.9000,0.7200) translate(-2.90,-5)" stroke-width="2.80" vector-effect="non-scaling-stroke" d="M5.8,0 H0 V10 M0,5 H4.8"/></g>
<g transform="translate(491.80,964.40) rotate(-35.83)"><path transform="scale(0.9000,0.7200) translate(-2.75,-5)" stroke-width="2.80" vector-effect="non-scaling-stroke" d="M0,0 V10 H5.5"/></g>
<g transform="translate(507.40,957.20) rotate(-13.28)"><path transform="scale(0.9000,0.7200) translate(-3.60,-5)" stroke-width="2.80" vector-effect="non-scaling-stroke" d="M0,10 L3.6,0 L7.2,10 M1.3,6.4 H5.9"/></g>
<g transform="translate(527.20,957.20) rotate(12.77)"><path transform="scale(0.9000,0.7200) translate(-3.30,-5)" stroke-width="2.80" vector-effect="non-scaling-stroke" d="M0,10 V0 L6.6,10 V0"/></g>
<g transform="translate(542.80,966.80) rotate(37.31)"><path transform="scale(0.9000,0.7200) translate(-3.30,-5)" stroke-width="2.80" vector-effect="non-scaling-stroke" d="M0,0 H6.4 L0,10 H6.6"/></g>
<g transform="translate(554.80,975.80) rotate(57.02)"><path transform="scale(0.9000,0.7200) translate(-3.15,-5)" stroke-width="2.80" vector-effect="non-scaling-stroke" d="M6,1.2 C5.3,0.4 4.4,0 3.4,0 C1.6,0 0.6,1.2 0.6,2.6 C0.6,4.2 2,5 3.8,5 C1.6,5 0,6 0,7.5 C0,9.1 1.4,10 3.4,10 C4.6,10 5.6,9.5 6.3,8.7"/></g>
<g transform="translate(561.40,987.20) rotate(73.74)"><path transform="scale(0.9000,0.7200) translate(-3.30,-5)" stroke-width="2.80" vector-effect="non-scaling-stroke" d="M0,10 V0 L6.6,10 V0"/></g>
<rect x="409.5" y="615.9" width="222.3" height="3.2" fill="#000" stroke="none"/>
<rect x="448" y="645.9" width="145" height="3.2" fill="#000" stroke="none"/>
</g>
</svg>
</body></html>
